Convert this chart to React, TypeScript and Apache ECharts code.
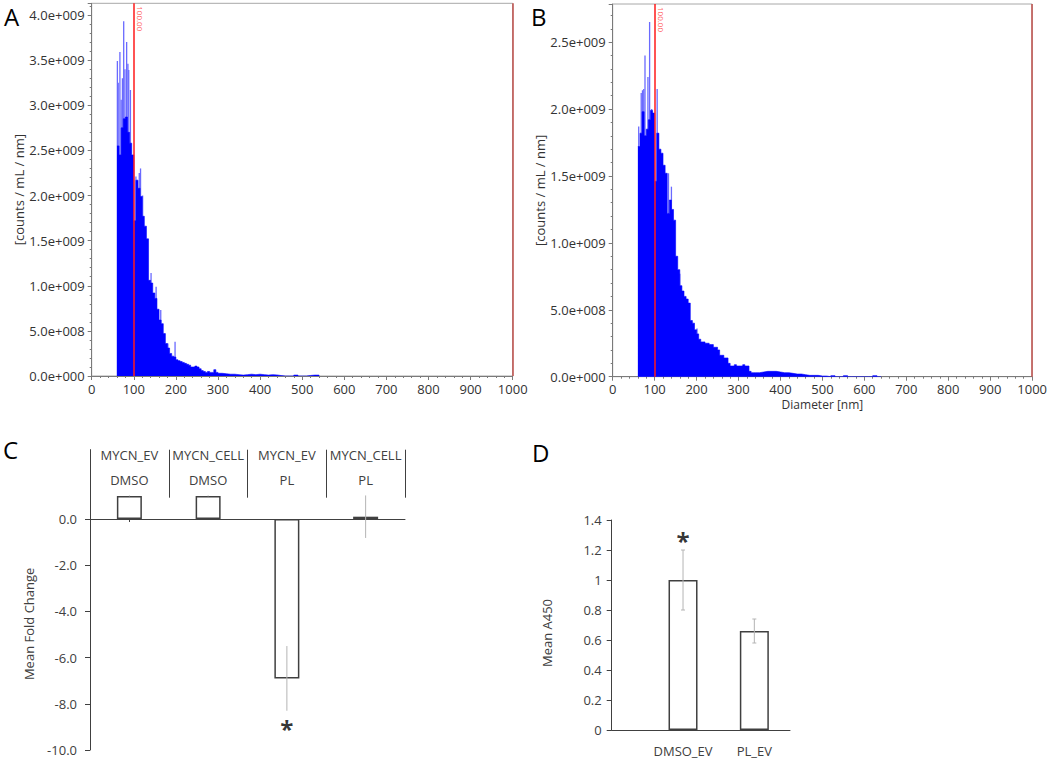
import React, { useEffect, useRef } from "react";
import * as echarts from "echarts";

const FONT = "'Open Sans', 'Noto Sans', sans-serif";

// ---------- Panel A : size distribution (counts in units of 1e9 / mL / nm) ----------
const histAEdges = [
  60, 65, 70, 75, 80, 85, 90, 95, 100, 105, 110, 115, 120, 125, 130, 135, 140, 145, 150,
  155, 160, 165, 170, 175, 180, 185, 190, 195, 200, 205, 210, 215, 220, 225, 230, 235, 240,
  245, 250, 255, 260, 265, 270, 275, 280, 285, 290, 295, 300, 310, 320, 330, 340, 350, 360,
  370, 380, 390, 400, 410, 420, 430, 440, 450, 460, 470, 480, 490, 500, 510, 520, 530, 540,
];
const histACounts = [
  2.55, 2.45, 2.75, 2.85, 2.87, 2.7, 2.58, 2.45, 1.72, 2.17, 2.08, 1.99, 1.77, 1.66, 1.52,
  1.06, 1.03, 0.92, 0.86, 0.74, 0.62, 0.58, 0.47, 0.36, 0.31, 0.25, 0.22, 0.21, 0.18, 0.17,
  0.16, 0.15, 0.14, 0.13, 0.12, 0.1, 0.1, 0.11, 0.1, 0.08, 0.06, 0.05, 0.04, 0.05, 0.04,
  0.04, 0.07, 0.04, 0.03, 0.025, 0.02, 0.02, 0.015, 0.01, 0.015, 0.02, 0.015, 0.02, 0.015,
  0.01, 0.015, 0.012, 0.005, 0, 0, 0, 0.01, 0, 0, 0.006, 0.01, 0.01,
];
const spikeADiam = [61, 63, 67, 70, 73, 76, 79, 83, 86, 88, 92, 105, 113, 116, 121, 127, 141, 153, 164, 181, 198];
const spikeACounts = [3.49, 3.25, 3.59, 3.06, 3.3, 3.93, 3.4, 3.7, 3.46, 3.39, 3.17, 2.21, 2.25, 2.3, 2.0, 1.54, 1.14, 0.99, 0.73, 0.36, 0.38];

// ---------- Panel B ----------
const histBEdges = [
  60, 65, 70, 75, 80, 85, 90, 95, 100, 105, 110, 115, 120, 125, 130, 135, 140, 145, 150,
  155, 160, 165, 170, 175, 180, 185, 190, 195, 200, 205, 210, 215, 220, 225, 230, 235, 240,
  245, 250, 255, 260, 265, 270, 275, 280, 285, 290, 295, 300, 305, 310, 315, 320, 325, 330,
  335, 340, 350, 360, 370, 380, 390, 400, 410, 420, 430, 440, 450, 460, 470, 480, 490, 500,
  510, 520, 530, 540, 550, 560, 570, 580, 590, 600, 610, 620, 630, 640,
];
const histBCounts = [
  1.72, 1.82, 1.98, 1.8, 1.85, 1.92, 1.99, 1.97, 1.46, 1.82, 1.7, 1.67, 1.58, 1.52, 1.22,
  1.32, 1.25, 1.17, 0.9, 0.8, 0.68, 0.64, 0.6, 0.58, 0.55, 0.42, 0.4, 0.35, 0.32, 0.28, 0.26,
  0.26, 0.25, 0.25, 0.24, 0.24, 0.22, 0.22, 0.2, 0.16, 0.16, 0.14, 0.14, 0.1, 0.08, 0.08,
  0.09, 0.08, 0.08, 0.08, 0.09, 0.08, 0.08, 0.04, 0.03, 0.03, 0.03, 0.035, 0.04, 0.04, 0.04,
  0.035, 0.03, 0.03, 0.025, 0.02, 0.02, 0.015, 0.01, 0.01, 0.01, 0.005, 0.005, 0, 0.008, 0,
  0, 0.008, 0, 0, 0, 0, 0, 0, 0.008, 0,
];
const spikeBDiam = [62, 68, 71, 74, 77, 84, 88, 93, 106, 109, 133, 140, 160, 201];
const spikeBCounts = [1.87, 2.12, 2.14, 2.15, 2.4, 2.24, 2.65, 2.0, 2.15, 1.82, 1.52, 1.42, 0.77, 0.36];

const sizeMarker = 100;
const sizeRangeEnd = 1000;
const yMaxA = 4.13e9;
const yMaxB = 2.785e9;

// ---------- Panel C ----------
const cGroups = ["MYCN_EV", "MYCN_CELL", "MYCN_EV", "MYCN_CELL"];
const cTreatments = ["DMSO", "DMSO", "PL", "PL"];
const cMeans = [1.0, 1.0, -6.9, 0.1];
const cErrors = [0.02, 0.02, 1.4, 0.92];
const cStarIndex = 2;
const cStarY = -8.9;
const cTicks = [0, -2, -4, -6, -8, -10];

// ---------- Panel D ----------
const dCategories = ["DMSO_EV", "PL_EV"];
const dMeans = [1.0, 0.66];
const dErrors = [0.2, 0.08];
const dStarIndex = 0;
const dStarY = 1.29;

function sci(v: number): string {
  if (v === 0) return "0.0e+000";
  const e = Math.floor(Math.log10(Math.abs(v)) + 1e-9);
  const m = v / Math.pow(10, e);
  return m.toFixed(1) + "e+" + String(e).padStart(3, "0");
}

function stepData(edges: number[], counts: number[]) {
  return edges.map((e, i) => [e, (i < counts.length ? counts[i] : 0) * 1e9]);
}

function histAxes(gridIndex: number, yMax: number, withName: boolean) {
  const x = {
    type: "value",
    gridIndex,
    min: 0,
    max: 1000,
    interval: 100,
    axisLine: { show: true, lineStyle: { color: "#7a7a7a" } },
    axisTick: { show: true, length: 4, lineStyle: { color: "#7a7a7a" } },
    minorTick: { show: true, splitNumber: 5, length: 2, lineStyle: { color: "#7a7a7a" } },
    splitLine: { show: false },
    axisLabel: { margin: 6, fontSize: 13, color: "#333", fontFamily: FONT, formatter: (v: number) => String(v) },
    name: withName ? "Diameter [nm]" : "",
    nameLocation: "middle",
    nameGap: 22,
    nameTextStyle: { fontSize: 12, color: "#333", fontFamily: FONT },
  };
  const y = {
    type: "value",
    gridIndex,
    min: 0,
    max: yMax,
    interval: 5e8,
    axisLine: { show: true, lineStyle: { color: "#7a7a7a" } },
    axisTick: { show: true, length: 4, lineStyle: { color: "#7a7a7a" } },
    minorTick: { show: true, splitNumber: 5, length: 2, lineStyle: { color: "#7a7a7a" } },
    splitLine: { show: false },
    axisLabel: {
      margin: 7,
      fontSize: 13,
      color: "#333",
      fontFamily: FONT,
      showMaxLabel: false,
      formatter: (v: number) => sci(v),
    },
    name: "[counts / mL / nm]",
    nameLocation: "middle",
    nameGap: 60,
    nameTextStyle: { fontSize: 13, color: "#333", fontFamily: FONT },
  };
  return { x, y };
}

function histSeries(
  axisIndex: number,
  edges: number[],
  counts: number[],
  spikeD: number[],
  spikeC: number[],
  yMax: number
) {
  return [
    {
      type: "bar",
      xAxisIndex: axisIndex,
      yAxisIndex: axisIndex,
      data: spikeD.map((d, i) => [d, spikeC[i] * 1e9]),
      barWidth: 1.3,
      itemStyle: { color: "#6a6aff" },
      z: 2,
    },
    {
      type: "line",
      xAxisIndex: axisIndex,
      yAxisIndex: axisIndex,
      step: "end",
      symbol: "none",
      data: stepData(edges, counts),
      lineStyle: { width: 0.6, color: "#0000ff" },
      areaStyle: { color: "#0000ff", opacity: 1 },
      z: 3,
      markLine: {
        silent: true,
        symbol: ["none", "none"],
        animation: false,
        data: [
          [
            {
              coord: [sizeMarker, yMax],
              lineStyle: { color: "#ff1a1a", width: 1.5, type: "solid" },
              label: {
                show: true,
                formatter: sizeMarker.toFixed(2),
                position: "insideStartTop",
                color: "#ff6060",
                fontSize: 8,
                distance: 3,
                fontFamily: FONT,
              },
            },
            { coord: [sizeMarker, 0] },
          ],
          {
            xAxis: sizeRangeEnd,
            lineStyle: { color: "#c0504d", width: 1.5, type: "solid" },
            label: { show: false },
          },
        ],
      },
    },
  ];
}

export default function App() {
  const ref = useRef<HTMLDivElement>(null);

  useEffect(() => {
    if (!ref.current) return;
    const chart = echarts.init(ref.current, undefined, { renderer: "svg" });
    const a = histAxes(0, yMaxA, false);
    const b = histAxes(1, yMaxB, true);
    const cKeys = cGroups.map((g, i) => g + "|" + cTreatments[i]);

    const errC = {
      type: "custom",
      xAxisIndex: 2,
      yAxisIndex: 2,
      z: 4,
      data: cMeans.map((m, i) => [i, m - cErrors[i], m + cErrors[i]]),
      encode: { x: 0, y: [1, 2] },
      renderItem: (params: any, api: any) => {
        const i = api.value(0);
        const lo = api.coord([i, api.value(1)]);
        const hi = api.coord([i, api.value(2)]);
        return {
          type: "line",
          shape: { x1: lo[0], y1: lo[1], x2: hi[0], y2: hi[1] },
          style: { stroke: "#b4b4b4", lineWidth: 1 },
        };
      },
    };

    const errD = {
      type: "custom",
      xAxisIndex: 4,
      yAxisIndex: 3,
      z: 4,
      data: dMeans.map((m, i) => [i + 1, m - dErrors[i], m + dErrors[i]]),
      encode: { x: 0, y: [1, 2] },
      renderItem: (params: any, api: any) => {
        const x = api.value(0);
        const lo = api.coord([x, api.value(1)]);
        const hi = api.coord([x, api.value(2)]);
        const st = { stroke: "#b4b4b4", lineWidth: 1 };
        return {
          type: "group",
          children: [
            { type: "line", shape: { x1: lo[0], y1: lo[1], x2: hi[0], y2: hi[1] }, style: st },
            { type: "line", shape: { x1: lo[0] - 2, y1: lo[1], x2: lo[0] + 2, y2: lo[1] }, style: st },
            { type: "line", shape: { x1: hi[0] - 2, y1: hi[1], x2: hi[0] + 2, y2: hi[1] }, style: st },
          ],
        };
      },
    };

    const starLabel = {
      show: true,
      formatter: "*",
      position: "inside",
      fontSize: 24,
      fontWeight: "bold",
      color: "#000",
      fontFamily: FONT,
      offset: [0, 4],
    };

    const option: any = {
      animation: false,
      textStyle: { fontFamily: FONT },
      grid: [
        { left: 91.7, top: 3.3, right: 537.3, bottom: 388, show: true, borderColor: "#a8a8a8", borderWidth: 1, backgroundColor: "transparent" },
        { left: 612.7, top: 4, right: 17, bottom: 387.3, show: true, borderColor: "#a8a8a8", borderWidth: 1, backgroundColor: "transparent" },
        { left: 90, top: 449.7, right: 645, bottom: 14 },
        { left: 611.7, top: 520, right: 260, bottom: 34 },
      ],
      xAxis: [
        a.x,
        b.x,
        {
          type: "category",
          gridIndex: 2,
          data: cKeys,
          axisLine: { onZero: true, lineStyle: { color: "#404040", width: 1 } },
          axisTick: { show: true, alignWithLabel: true, length: 3, lineStyle: { color: "#404040" } },
          axisLabel: { show: false },
          splitLine: { show: false },
        },
        {
          type: "category",
          gridIndex: 2,
          position: "top",
          data: cKeys,
          axisLine: { show: false, onZero: false },
          axisTick: { show: true, inside: true, length: 48, lineStyle: { color: "#404040" } },
          axisLabel: {
            show: true,
            inside: true,
            margin: -7,
            interval: 0,
            lineHeight: 25,
            fontSize: 13,
            color: "#404040",
            fontFamily: FONT,
            formatter: (_v: string, i: number) => cGroups[i] + "\n" + cTreatments[i],
          },
          splitLine: { show: false },
        },
        {
          type: "value",
          gridIndex: 3,
          min: 0,
          max: 2.5,
          interval: 1,
          axisLine: { show: true, lineStyle: { color: "#404040", width: 1 } },
          axisTick: { show: false },
          splitLine: { show: false },
          axisLabel: {
            margin: 14,
            fontSize: 13,
            color: "#404040",
            fontFamily: FONT,
            formatter: (v: number) => dCategories[v - 1] ?? "",
          },
        },
      ],
      yAxis: [
        a.y,
        b.y,
        {
          type: "value",
          gridIndex: 2,
          min: -10,
          max: 3,
          interval: 2,
          axisLine: { show: true, lineStyle: { color: "#404040" } },
          axisTick: { show: true, length: 5, customValues: cTicks, lineStyle: { color: "#404040" } },
          splitLine: { show: false },
          axisLabel: {
            customValues: cTicks,
            margin: 13,
            fontSize: 13,
            color: "#404040",
            fontFamily: FONT,
            formatter: (v: number) => (v > 0 ? "" : v.toFixed(1)),
          },
          name: "Mean Fold Change",
          nameLocation: "middle",
          nameGap: 55,
          nameTextStyle: { fontSize: 13, color: "#404040", fontFamily: FONT, padding: [0, 48, 0, 0] },
        },
        {
          type: "value",
          gridIndex: 3,
          min: 0,
          max: 1.4,
          interval: 0.2,
          axisLine: { show: true, lineStyle: { color: "#404040" } },
          axisTick: { show: true, length: 5, lineStyle: { color: "#404040" } },
          splitLine: { show: false },
          axisLabel: {
            margin: 10,
            fontSize: 13,
            color: "#404040",
            fontFamily: FONT,
            formatter: (v: number) => String(parseFloat(v.toFixed(1))),
          },
          name: "Mean A450",
          nameLocation: "middle",
          nameGap: 58,
          nameTextStyle: { fontSize: 13, color: "#404040", fontFamily: FONT, padding: [0, 16, 0, 0] },
        },
      ],
      series: [
        ...histSeries(0, histAEdges, histACounts, spikeADiam, spikeACounts, yMaxA),
        ...histSeries(1, histBEdges, histBCounts, spikeBDiam, spikeBCounts, yMaxB),
        {
          type: "bar",
          xAxisIndex: 2,
          yAxisIndex: 2,
          data: cMeans,
          barWidth: 25,
          itemStyle: { color: "#ffffff", borderColor: "#404040", borderWidth: 1.5 },
          z: 3,
        },
        errC,
        {
          type: "scatter",
          xAxisIndex: 2,
          yAxisIndex: 2,
          data: [[cStarIndex, cStarY]],
          symbolSize: 1,
          itemStyle: { color: "rgba(0,0,0,0)" },
          label: starLabel,
          z: 5,
        },
        {
          type: "bar",
          xAxisIndex: 4,
          yAxisIndex: 3,
          data: dMeans.map((m, i) => [i + 1, m]),
          barWidth: 29,
          itemStyle: { color: "#ffffff", borderColor: "#404040", borderWidth: 1.5 },
          z: 3,
        },
        errD,
        {
          type: "scatter",
          xAxisIndex: 4,
          yAxisIndex: 3,
          data: [[dStarIndex + 1, dStarY]],
          symbolSize: 1,
          itemStyle: { color: "rgba(0,0,0,0)" },
          label: starLabel,
          z: 5,
        },
      ],
      graphic: [
        { type: "text", left: 4, top: 4, style: { text: "A", fontSize: 24, fill: "#000", fontFamily: FONT } },
        { type: "text", left: 531, top: 4, style: { text: "B", fontSize: 24, fill: "#000", fontFamily: FONT } },
        { type: "text", left: 3, top: 437, style: { text: "C", fontSize: 24, fill: "#000", fontFamily: FONT } },
        { type: "text", left: 532, top: 440, style: { text: "D", fontSize: 24, fill: "#000", fontFamily: FONT } },
      ],
    };
    chart.setOption(option);
    return () => chart.dispose();
  }, []);

  return (
    <div
      ref={ref}
      style={{ position: "fixed", left: 0, top: 0, width: 1050, height: 764, background: "#fff" }}
    />
  );
}
